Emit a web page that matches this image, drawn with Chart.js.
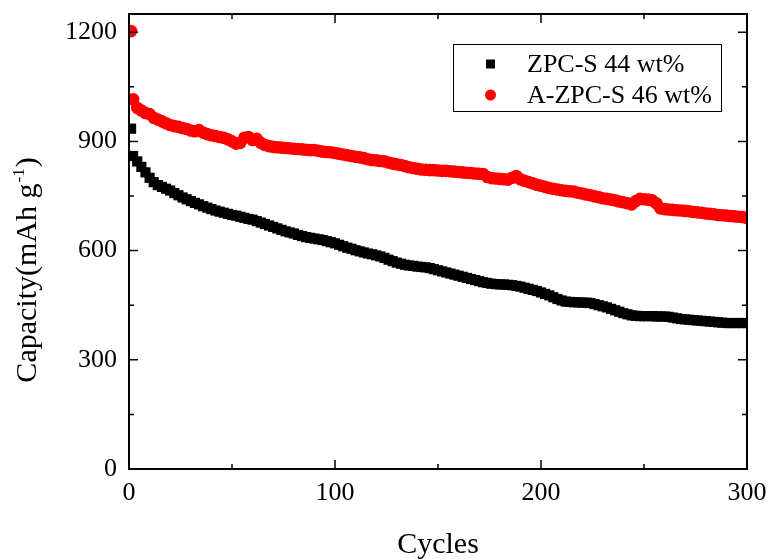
<!DOCTYPE html>
<html>
<head>
<meta charset="utf-8">
<script src="https://cdn.jsdelivr.net/npm/chart.js@4"></script>
<style>
  html, body { margin: 0; padding: 0; background: #fff; }
  #wrap { width: 773px; height: 559px; }
</style>
</head>
<body>
<div id="wrap"><canvas id="chart"></canvas></div>
<script>
// cycle numbers: 1, 2, then every second cycle up to 300
const cycles = [1, 2];
for (let n = 4; n <= 300; n += 2) cycles.push(n);

// ZPC-S 44 wt% (mAh/g)
const zpcS = [935, 860, 845, 830, 815, 800, 788, 780, 775, 770, 765, 758, 752, 746, 741, 736, 731, 727, 722, 718,
  714, 710, 707, 704, 701, 698, 696, 693, 690, 687, 685, 681, 677, 673, 669, 665, 661, 657, 653, 650,
  647, 643, 640, 637, 635, 633, 631, 629, 626, 623, 620, 616, 612, 608, 605, 601, 598, 595, 592, 590,
  587, 584, 580, 575, 571, 567, 564, 561, 559, 558, 556, 555, 554, 552, 549, 546, 543, 540, 537, 534,
  531, 528, 525, 522, 519, 516, 513, 511, 509, 508, 507, 507, 506, 505, 503, 501, 498, 495, 492, 489,
  485, 481, 477, 472, 467, 463, 460, 459, 458, 458, 457, 457, 456, 453, 450, 447, 444, 440, 436, 432,
  428, 425, 422, 421, 420, 420, 420, 420, 419, 419, 419, 418, 416, 414, 412, 411, 410, 409, 408, 407,
  406, 405, 404, 403, 402, 401, 401, 401, 401, 401, 401];

// A-ZPC-S 46 wt% (mAh/g)
const aZpcS = [1203, 1016, 992, 985, 978, 975, 965, 960, 955, 950, 945, 942, 940, 937, 934, 930, 928, 931, 924, 920,
  917, 915, 912, 910, 906, 900, 894, 896, 910, 912, 904, 907, 896, 890, 887, 885, 884, 883, 882, 881,
  880, 879, 878, 877, 876, 876, 874, 872, 871, 870, 868, 866, 864, 862, 860, 858, 856, 854, 851, 849,
  848, 846, 845, 842, 839, 837, 835, 832, 829, 827, 825, 823, 822, 821, 821, 820, 819, 819, 818, 817,
  816, 815, 814, 813, 812, 811, 810, 802, 799, 798, 797, 796, 795, 800, 805, 796, 792, 788, 785, 781,
  778, 775, 772, 770, 768, 766, 764, 763, 762, 759, 757, 754, 752, 749, 747, 744, 742, 740, 738, 735,
  733, 730, 727, 736, 742, 741, 740, 738, 730, 716, 714, 713, 712, 711, 710, 709, 708, 706, 705, 704,
  702, 701, 700, 698, 697, 696, 695, 694, 693, 692, 690];

const xTicks = [0, 100, 200, 300];
const xMinor = [50, 150, 250];
const yTicks = [0, 300, 600, 900, 1200];
const yMinor = [150, 450, 750, 1050];

const serif = "'Liberation Serif', 'Times New Roman', serif";

// frame with inward ticks on all four sides, axis titles, legend box
const framePlugin = {
  id: 'frame',
  afterDraw(chart) {
    const ctx = chart.ctx;
    const a = chart.chartArea;
    const xs = chart.scales.x, ys = chart.scales.y;
    ctx.save();
    ctx.strokeStyle = '#000';
    ctx.lineWidth = 2;
    ctx.strokeRect(a.left, a.top, a.right - a.left, a.bottom - a.top);
    ctx.lineWidth = 1.5;
    ctx.beginPath();
    const xt = (v, len) => {
      const p = xs.getPixelForValue(v);
      ctx.moveTo(p, a.bottom); ctx.lineTo(p, a.bottom - len);
      ctx.moveTo(p, a.top); ctx.lineTo(p, a.top + len);
    };
    const yt = (v, len) => {
      const p = ys.getPixelForValue(v);
      ctx.moveTo(a.left, p); ctx.lineTo(a.left + len, p);
      ctx.moveTo(a.right, p); ctx.lineTo(a.right - len, p);
    };
    xTicks.forEach(v => xt(v, 9));
    xMinor.forEach(v => xt(v, 5));
    yTicks.forEach(v => yt(v, 9));
    yMinor.forEach(v => yt(v, 5));
    ctx.stroke();

    // axis titles
    ctx.fillStyle = '#000';
    ctx.font = '30px ' + serif;
    ctx.textAlign = 'center';
    ctx.textBaseline = 'alphabetic';
    ctx.fillText('Cycles', (a.left + a.right) / 2, 553);

    ctx.translate(36, 271);
    ctx.rotate(-Math.PI / 2);
    ctx.textAlign = 'left';
    const p1 = 'Capacity(mAh g', sup = '-1', p2 = ')';
    ctx.font = '30px ' + serif;
    const w1 = ctx.measureText(p1).width, w3 = ctx.measureText(p2).width;
    ctx.font = '17px ' + serif;
    const w2 = ctx.measureText(sup).width;
    let x0 = -(w1 + w2 + w3) / 2;
    ctx.font = '30px ' + serif;
    ctx.fillText(p1, x0, 0);
    ctx.font = '17px ' + serif;
    ctx.fillText(sup, x0 + w1 + 1, -12);
    ctx.font = '30px ' + serif;
    ctx.fillText(p2, x0 + w1 + w2 + 2, 0);
    ctx.restore();

    // legend
    ctx.save();
    ctx.strokeStyle = '#000';
    ctx.lineWidth = 1;
    ctx.strokeRect(453.5, 44.5, 268, 67);
    ctx.font = '26px ' + serif;
    ctx.textAlign = 'left';
    ctx.textBaseline = 'middle';
    chart.data.datasets.forEach((ds, i) => {
      const y = 64 + i * 31;
      ctx.fillStyle = ds.backgroundColor;
      if (ds.pointStyle === 'rect') {
        ctx.fillRect(486, y - 4.5, 9, 9);
      } else {
        ctx.beginPath();
        ctx.arc(490.5, y, 5.5, 0, Math.PI * 2);
        ctx.fill();
      }
      ctx.fillStyle = '#000';
      ctx.fillText(ds.label, 527, y + 1);
    });
    ctx.restore();
  }
};

new Chart(document.getElementById('chart'), {
  type: 'scatter',
  data: {
    datasets: [{
      label: 'ZPC-S 44 wt%',
      data: cycles.map((c, i) => ({ x: c, y: zpcS[i] })),
      pointStyle: 'rect',
      pointRadius: 7.2,
      backgroundColor: '#000000',
      borderWidth: 0
    }, {
      label: 'A-ZPC-S 46 wt%',
      data: cycles.map((c, i) => ({ x: c, y: aZpcS[i] })),
      pointStyle: 'circle',
      pointRadius: 6.3,
      backgroundColor: '#ff0000',
      borderWidth: 0
    }]
  },
  options: {
    responsive: true,
    maintainAspectRatio: false,
    animation: false,
    layout: { padding: { left: 0, right: 26, top: 14, bottom: 0 } },
    plugins: {
      legend: { display: false },
      tooltip: { enabled: false }
    },
    scales: {
      x: {
        type: 'linear',
        min: 0,
        max: 300,
        afterBuildTicks: s => { s.ticks = xTicks.map(v => ({ value: v })); },
        afterFit: s => { s.height = 90; s.paddingLeft = 0; s.paddingRight = 0; },
        grid: { display: false, drawTicks: false },
        border: { display: false },
        ticks: { color: '#000', font: { family: serif, size: 26 }, padding: 9, maxRotation: 0,
          callback: v => String(v) }
      },
      y: {
        min: 0,
        max: 1250,
        afterBuildTicks: s => { s.ticks = yTicks.map(v => ({ value: v })); },
        afterFit: s => { s.width = 129; s.paddingTop = 0; s.paddingBottom = 0; },
        grid: { display: false, drawTicks: false },
        border: { display: false },
        ticks: { color: '#000', font: { family: serif, size: 26 }, padding: 12,
          callback: v => String(v) }
      }
    }
  },
  plugins: [framePlugin]
});
</script>
</body>
</html>
